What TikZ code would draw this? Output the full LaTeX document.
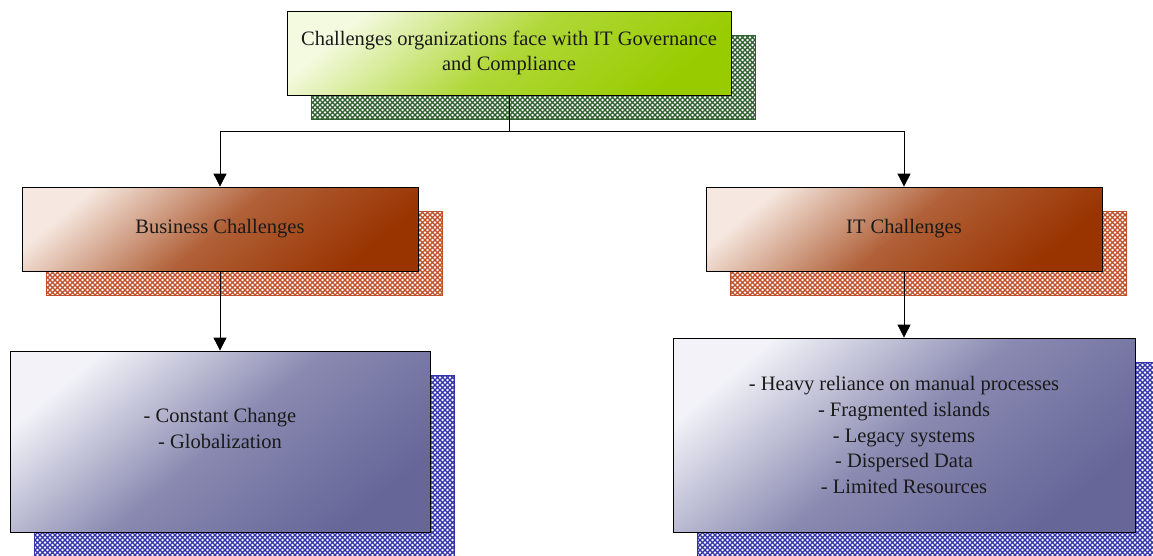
\documentclass[tikz,border=0pt]{standalone}
\usepackage{fontspec}
\setmainfont{Liberation Serif}
\usetikzlibrary{shadows,patterns,arrows.meta,positioning}
\pgfdeclarepatternformonly{xhatch}{\pgfpoint{-1pt}{-1pt}}{\pgfpoint{6pt}{6pt}}{\pgfpoint{5pt}{5pt}}{
  \pgfsetlinewidth{1.35pt}
  \pgfpathmoveto{\pgfpoint{-1pt}{-1pt}}\pgfpathlineto{\pgfpoint{6pt}{6pt}}
  \pgfpathmoveto{\pgfpoint{-1pt}{6pt}}\pgfpathlineto{\pgfpoint{6pt}{-1pt}}
  \pgfusepath{stroke}}
\definecolor{gdark}{HTML}{99CC00}
\definecolor{glight}{HTML}{F4FAE0}
\definecolor{gshadow}{HTML}{2F5F2F}
\definecolor{rdark}{HTML}{993300}
\definecolor{rlight}{HTML}{F6E8E0}
\definecolor{rshadow}{HTML}{C0502A}
\definecolor{bdark}{HTML}{666699}
\definecolor{blight}{HTML}{F2F2F8}
\definecolor{bshadow}{HTML}{3333AA}
\definecolor{txt}{HTML}{1A1A1A}
\tikzset{
  box/.style n args={5}{draw=black, line width=0.8pt, rectangle, inner sep=0pt,
    minimum width=#1, minimum height=#2,
    left color=#3, right color=#4, middle color=#4!75!#3, shading angle=40,
    general shadow={shadow xshift=24pt, shadow yshift=-24pt, fill=white, pattern=xhatch, pattern color=#5, draw=#5, line width=0.8pt},
    text=txt, align=center, font=\fontsize{20.5}{25.7}\selectfont},
  conn/.style={draw=black, line width=0.8pt},
  arr/.style={conn, -{Triangle[width=13pt,length=13pt]}}
}
\begin{document}
\begin{tikzpicture}
\useasboundingbox (0,0) rectangle (1153pt,-555pt);
\node[box={444pt}{84pt}{glight}{gdark}{gshadow}] (top) at (509pt,-53pt)
  {Challenges organizations face with IT Governance\\and Compliance};
\node[box={396pt}{84pt}{rlight}{rdark}{rshadow}] (bus) at (220pt,-229pt) {Business Challenges};
\node[box={396pt}{84pt}{rlight}{rdark}{rshadow}] (itc) at (904pt,-229pt) {IT Challenges};
\node[box={420pt}{181pt}{blight}{bdark}{bshadow}] (busl) at (220pt,-441.5pt)
  {- Constant Change\\- Globalization\\\mbox{}};
\node[box={462pt}{194pt}{blight}{bdark}{bshadow}] (itl) at (904pt,-435pt)
  {- Heavy reliance on manual processes\\- Fragmented islands\\- Legacy systems\\- Dispersed Data\\- Limited Resources};
\coordinate (j) at (509pt,-131pt);
\draw[conn] (top.south) -- (j);
\draw[arr] (j) -| (bus.north);
\draw[arr] (j) -| (itc.north);
\draw[arr] (bus.south) -- (busl.north);
\draw[arr] (itc.south) -- (itl.north);
\end{tikzpicture}
\end{document}
